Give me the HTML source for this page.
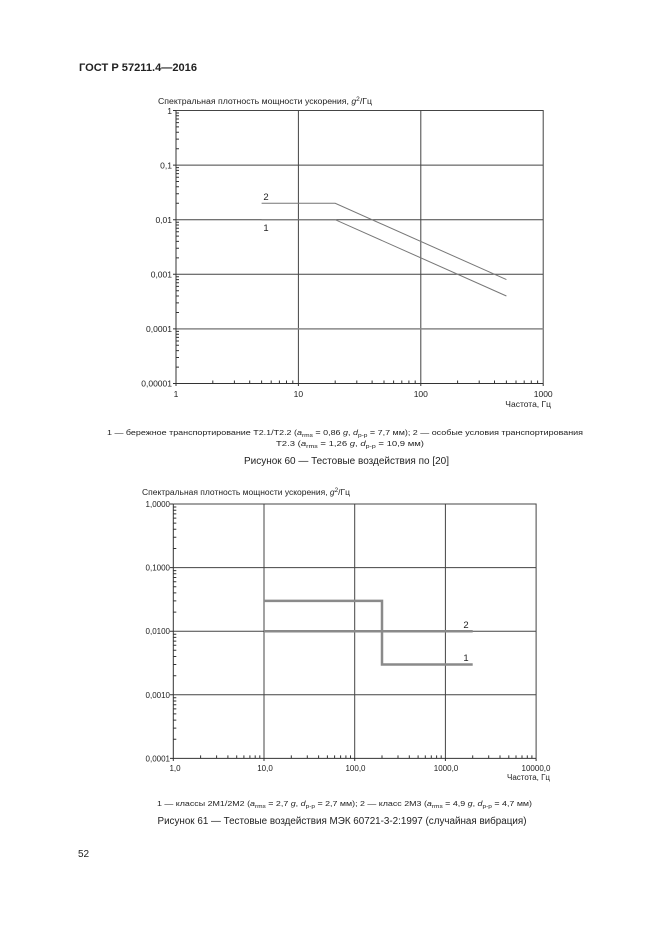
<!DOCTYPE html>
<html><head><meta charset="utf-8"><style>
html,body{margin:0;padding:0;background:#fff;}
svg{display:block;}
text{font-family:"Liberation Sans",Arial,sans-serif;fill:#222;}
</style></head><body>
<svg width="661" height="935" viewBox="0 0 661 935" xmlns="http://www.w3.org/2000/svg">
<rect width="661" height="935" fill="#fff"/>
<text x="79" y="71" font-size="11" font-weight="bold" textLength="118" lengthAdjust="spacingAndGlyphs">ГОСТ Р 57211.4—2016</text>

<!-- Chart 1 -->
<text x="158" y="104" font-size="8" textLength="214" lengthAdjust="spacingAndGlyphs">Спектральная плотность мощности ускорения, <tspan font-style="italic">g</tspan><tspan font-size="6" dy="-3">2</tspan><tspan dy="3">/Гц</tspan></text>
<g stroke="#444" stroke-width="1" fill="none">
<path d="M176 110.5H543.2V383.5"/>
<path d="M298.4 110.5V383.5M420.8 110.5V383.5"/>
<path d="M176 165.1H543.2M176 219.7H543.2M176 274.3H543.2"/>
</g>
<path d="M176 328.9H543.2" stroke="#888" stroke-width="1.5"/>
<g stroke="#333" stroke-width="1" fill="none">
<path d="M176 110.5V383.5H543.2"/>
<path d="M173 110.5H176M173 165.1H176M173 219.7H176M173 274.3H176M173 328.9H176M173 383.5H176"/>
<path d="M176 386V383.5M298.4 386V383.5M420.8 386V383.5M543.2 386V383.5"/>
<path d="M176 367.1h3M176 357.5h3M176 350.6h3M176 345.3h3M176 341h3M176 337.4h3M176 334.2h3M176 331.4h3
M176 312.5h3M176 302.9h3M176 296h3M176 290.7h3M176 286.4h3M176 282.8h3M176 279.6h3M176 276.8h3
M176 257.9h3M176 248.3h3M176 241.4h3M176 236.1h3M176 231.8h3M176 228.2h3M176 225h3M176 222.2h3
M176 203.3h3M176 193.7h3M176 186.8h3M176 181.5h3M176 177.2h3M176 173.6h3M176 170.4h3M176 167.6h3
M176 148.7h3M176 139.1h3M176 132.2h3M176 126.9h3M176 122.6h3M176 119h3M176 115.8h3M176 113h3"/>
<path d="M212.8 383.5v-3M234.4 383.5v-3M249.7 383.5v-3M261.6 383.5v-3M271.2 383.5v-3M279.4 383.5v-3M286.5 383.5v-3M292.8 383.5v-3
M335.2 383.5v-3M356.8 383.5v-3M372.1 383.5v-3M384 383.5v-3M393.6 383.5v-3M401.8 383.5v-3M408.9 383.5v-3M415.2 383.5v-3
M457.6 383.5v-3M479.2 383.5v-3M494.5 383.5v-3M506.4 383.5v-3M516 383.5v-3M524.2 383.5v-3M531.3 383.5v-3M537.6 383.5v-3"/>
</g>
<g stroke="#777" stroke-width="1" fill="none">
<path d="M261.6 203.3H335.2L506.4 279.6"/>
<path d="M261.6 219.7H335.2L506.4 296"/>
</g>
<text x="266" y="200" font-size="9.5" text-anchor="middle">2</text>
<text x="266" y="231" font-size="9.5" text-anchor="middle">1</text>
<g font-size="8.5" text-anchor="end">
<text x="172" y="114">1</text>
<text x="172" y="168.5">0,1</text>
<text x="172" y="223">0,01</text>
<text x="172" y="277.5">0,001</text>
<text x="172" y="332">0,0001</text>
<text x="172" y="386.5">0,00001</text>
</g>
<g font-size="8.5" text-anchor="middle">
<text x="176" y="397">1</text>
<text x="298.4" y="397">10</text>
<text x="420.8" y="397">100</text>
<text x="543.2" y="397">1000</text>
</g>
<text x="551" y="407" font-size="8.5" text-anchor="end">Частота, Гц</text>

<text x="107" y="435" font-size="7.5" textLength="476" lengthAdjust="spacingAndGlyphs">1 — бережное транспортирование Т2.1/Т2.2 (<tspan font-style="italic">a</tspan><tspan font-size="5.5" dy="2">rms</tspan><tspan dy="-2"> = 0,86 </tspan><tspan font-style="italic">g</tspan>, <tspan font-style="italic">d</tspan><tspan font-size="5.5" dy="2">p-p</tspan><tspan dy="-2"> = 7,7 мм); 2 — особые условия транспортирования</tspan></text>
<text x="276" y="446" font-size="7.5" textLength="148" lengthAdjust="spacingAndGlyphs">Т2.3 (<tspan font-style="italic">a</tspan><tspan font-size="5.5" dy="2">rms</tspan><tspan dy="-2"> = 1,26 </tspan><tspan font-style="italic">g</tspan>, <tspan font-style="italic">d</tspan><tspan font-size="5.5" dy="2">p-p</tspan><tspan dy="-2"> = 10,9 мм)</tspan></text>
<text x="244" y="464" font-size="10" textLength="205" lengthAdjust="spacingAndGlyphs">Рисунок 60 — Тестовые воздействия по [20]</text>

<!-- Chart 2 -->
<text x="142" y="495" font-size="8" textLength="208" lengthAdjust="spacingAndGlyphs">Спектральная плотность мощности ускорения, <tspan font-style="italic">g</tspan><tspan font-size="6" dy="-3">2</tspan><tspan dy="3">/Гц</tspan></text>
<g stroke="#444" stroke-width="1" fill="none">
<path d="M173.3 504H536.1V758.4"/>
<path d="M264 504V758.4M354.7 504V758.4M445.4 504V758.4"/>
<path d="M173.3 567.6H536.1M173.3 631.2H536.1M173.3 694.8H536.1"/>
</g>
<g stroke="#333" stroke-width="1" fill="none">
<path d="M173.3 504V758.4H536.1"/>
<path d="M170 504H173.3M170 567.6H173.3M170 631.2H173.3M170 694.8H173.3M170 758.4H173.3"/>
<path d="M173.3 761V758.4M264 761V758.4M354.7 761V758.4M445.4 761V758.4M536.1 761V758.4"/>
<path d="M173.3 739.3h3M173.3 728.1h3M173.3 720.1h3M173.3 713.9h3M173.3 708.9h3M173.3 704.7h3M173.3 701h3M173.3 697.8h3
M173.3 675.7h3M173.3 664.5h3M173.3 656.5h3M173.3 650.3h3M173.3 645.3h3M173.3 641.1h3M173.3 637.4h3M173.3 634.2h3
M173.3 612.1h3M173.3 600.9h3M173.3 592.9h3M173.3 586.7h3M173.3 581.7h3M173.3 577.5h3M173.3 573.8h3M173.3 570.6h3
M173.3 548.5h3M173.3 537.3h3M173.3 529.3h3M173.3 523.1h3M173.3 518.1h3M173.3 513.9h3M173.3 510.2h3M173.3 507h3"/>
<path d="M200.6 758.4v-3M216.6 758.4v-3M227.9 758.4v-3M236.7 758.4v-3M243.9 758.4v-3M249.9 758.4v-3M255.2 758.4v-3M259.8 758.4v-3
M291.3 758.4v-3M307.3 758.4v-3M318.6 758.4v-3M327.4 758.4v-3M334.6 758.4v-3M340.6 758.4v-3M345.9 758.4v-3M350.5 758.4v-3
M382 758.4v-3M398 758.4v-3M409.3 758.4v-3M418.1 758.4v-3M425.3 758.4v-3M431.3 758.4v-3M436.6 758.4v-3M441.2 758.4v-3
M472.7 758.4v-3M488.7 758.4v-3M500 758.4v-3M508.8 758.4v-3M516 758.4v-3M522 758.4v-3M527.3 758.4v-3M531.9 758.4v-3"/>
</g>
<g stroke="#8a8a8a" stroke-width="2.5" fill="none">
<path d="M264 631.2H472.7"/>
<path d="M264 600.9H382V664.5H472.7"/>
</g>
<text x="466" y="628" font-size="9.5" text-anchor="middle">2</text>
<text x="466" y="661" font-size="9.5" text-anchor="middle">1</text>
<g font-size="8" text-anchor="end">
<text x="170" y="507">1,0000</text>
<text x="170" y="570.6">0,1000</text>
<text x="170" y="634.2">0,0100</text>
<text x="170" y="697.8">0,0010</text>
<text x="170" y="761.4">0,0001</text>
</g>
<g font-size="8" text-anchor="middle">
<text x="175" y="771">1,0</text>
<text x="265" y="771">10,0</text>
<text x="355.5" y="771">100,0</text>
<text x="446" y="771">1000,0</text>
<text x="536" y="771">10000,0</text>
</g>
<text x="550" y="780" font-size="8" text-anchor="end">Частота, Гц</text>

<text x="157" y="806" font-size="7.5" textLength="375" lengthAdjust="spacingAndGlyphs">1 — классы 2М1/2М2 (<tspan font-style="italic">a</tspan><tspan font-size="5.5" dy="2">rms</tspan><tspan dy="-2"> = 2,7 </tspan><tspan font-style="italic">g</tspan>, <tspan font-style="italic">d</tspan><tspan font-size="5.5" dy="2">p-p</tspan><tspan dy="-2"> = 2,7 мм); 2 — класс 2М3 (</tspan><tspan font-style="italic">a</tspan><tspan font-size="5.5" dy="2">rms</tspan><tspan dy="-2"> = 4,9 </tspan><tspan font-style="italic">g</tspan>, <tspan font-style="italic">d</tspan><tspan font-size="5.5" dy="2">p-p</tspan><tspan dy="-2"> = 4,7 мм)</tspan></text>
<text x="157.5" y="824" font-size="10" textLength="369" lengthAdjust="spacingAndGlyphs">Рисунок 61 — Тестовые воздействия МЭК 60721-3-2:1997 (случайная вибрация)</text>

<text x="78" y="857" font-size="10">52</text>
</svg>
</body></html>
